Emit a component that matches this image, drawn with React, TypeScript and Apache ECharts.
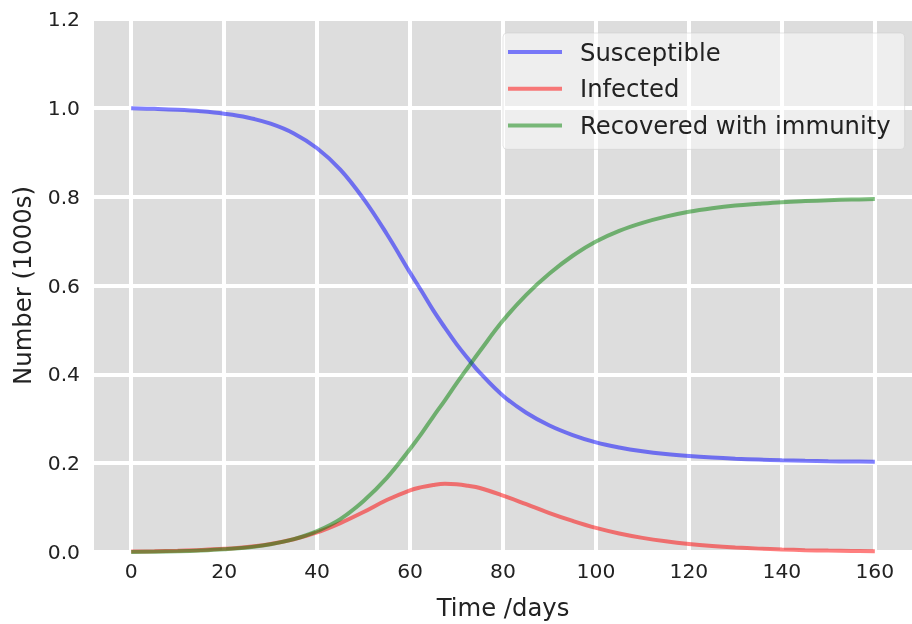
import React, { useEffect, useRef } from "react";
import * as echarts from "echarts";

const days = [0, 5, 10, 15, 20, 25, 30, 35, 40, 45, 50, 55, 60, 62.5, 65, 67.5, 70, 72.5, 75, 80, 85, 90, 95, 100, 105, 110, 115, 120, 125, 130, 135, 140, 145, 150, 155, 160];
const susceptible = [0.999, 0.9977, 0.9957, 0.9923, 0.9869, 0.9784, 0.9643, 0.9423, 0.909, 0.861, 0.795, 0.716, 0.629, 0.587, 0.544, 0.505, 0.468, 0.435, 0.404, 0.352, 0.3135, 0.2848, 0.2633, 0.2468, 0.2353, 0.2268, 0.2205, 0.2159, 0.2125, 0.21, 0.2082, 0.2065, 0.2053, 0.2044, 0.2037, 0.2031];
const infected = [0.001, 0.0016, 0.0027, 0.0044, 0.0071, 0.0114, 0.0182, 0.0287, 0.044, 0.065, 0.09, 0.117, 0.139, 0.146, 0.151, 0.1535, 0.1525, 0.149, 0.144, 0.127, 0.1076, 0.0877, 0.0699, 0.0542, 0.0417, 0.0318, 0.0241, 0.0181, 0.0136, 0.0102, 0.0076, 0.0057, 0.0042, 0.0031, 0.0023, 0.0017];
const recovered = [0.0, 0.0007, 0.0016, 0.0033, 0.006, 0.0102, 0.0175, 0.029, 0.047, 0.074, 0.115, 0.167, 0.232, 0.267, 0.305, 0.3415, 0.3795, 0.416, 0.452, 0.521, 0.579, 0.627, 0.667, 0.699, 0.723, 0.741, 0.755, 0.766, 0.774, 0.78, 0.784, 0.7875, 0.79, 0.792, 0.7935, 0.7945];
const xTicks = [0, 20, 40, 60, 80, 100, 120, 140, 160];
const seriesNames = ["Susceptible", "Infected", "Recovered with immunity"];
const seriesColors = ["rgba(0,0,255,0.5)", "rgba(255,0,0,0.5)", "rgba(0,128,0,0.5)"];

const FONT = "DejaVu Sans";

export default function App() {
  const ref = useRef<HTMLDivElement>(null);
  useEffect(() => {
    if (!ref.current) return;
    const chart = echarts.init(ref.current, null, { renderer: "svg" });
    const values = [susceptible, infected, recovered];
    chart.setOption({
      animation: false,
      grid: {
        left: 94,
        top: 19,
        right: -5,
        bottom: 70.5,
        show: true,
        backgroundColor: "#dddddd",
        borderWidth: 0,
      },
      legend: {
        orient: "vertical",
        left: 503,
        top: 33,
        padding: [7, 14, 12, 5],
        itemWidth: 54,
        itemHeight: 4,
        itemGap: 12.7,
        icon: "rect",
        backgroundColor: "rgba(255,255,255,0.5)",
        borderColor: "rgba(204,204,204,0.5)",
        borderWidth: 1,
        borderRadius: 4,
        textStyle: {
          fontFamily: FONT,
          fontSize: 24.3,
          lineHeight: 24,
          color: "#222",
          padding: [0, 0, 0, 13],
        },
        data: seriesNames,
      },
      xAxis: {
        type: "value",
        min: -8,
        max: 168,
        name: "Time /days",
        nameLocation: "middle",
        nameGap: 43,
        nameTextStyle: { fontFamily: FONT, fontSize: 24.3, color: "#222" },
        axisLine: { show: false },
        axisTick: { show: false, customValues: xTicks },
        axisLabel: {
          customValues: xTicks,
          fontFamily: FONT,
          fontSize: 20.3,
          color: "#222",
          margin: 9,
        },
        splitLine: { show: true, lineStyle: { color: "#ffffff", width: 4 } },
      },
      yAxis: {
        type: "value",
        min: 0,
        max: 1.2,
        interval: 0.2,
        name: "Number (1000s)",
        nameLocation: "middle",
        nameGap: 60,
        nameTextStyle: { fontFamily: FONT, fontSize: 24.3, color: "#222" },
        axisLine: { show: false },
        axisTick: { show: false },
        axisLabel: {
          fontFamily: FONT,
          fontSize: 20.3,
          color: "#222",
          margin: 14,
          formatter: (v: number) => v.toFixed(1),
        },
        splitLine: { show: true, lineStyle: { color: "#ffffff", width: 4 } },
      },
      series: seriesNames.map((name, i) => ({
        name,
        type: "line",
        data: days.map((d, j) => [d, values[i][j]]),
        showSymbol: false,
        smooth: 0.4,
        color: seriesColors[i],
        lineStyle: { color: seriesColors[i], width: 4 },
        itemStyle: { color: seriesColors[i] },
      })),
    });
    return () => chart.dispose();
  }, []);
  return (
    <div
      ref={ref}
      style={{ position: "fixed", left: 0, top: 0, width: 912, height: 624 }}
    />
  );
}
